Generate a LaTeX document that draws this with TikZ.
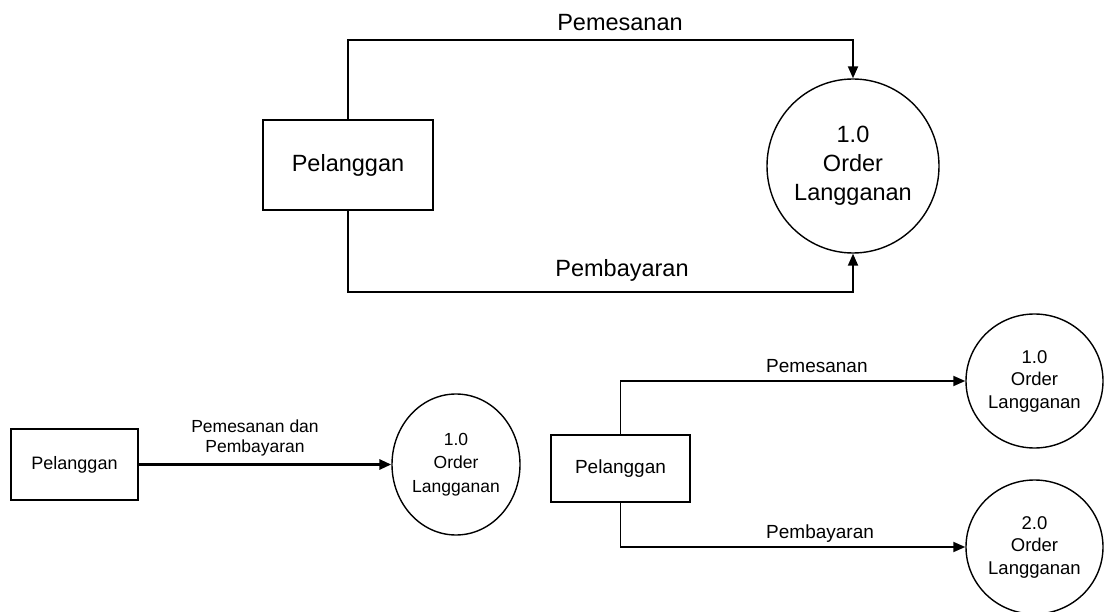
\documentclass[tikz,border=0pt]{standalone}
\usepackage{fontspec}
\setmainfont{Liberation Sans}
\usetikzlibrary{arrows.meta,shapes.geometric}
\begin{document}
\begin{tikzpicture}[x=1pt,y=-1pt,
  box/.style={draw,line width=1.9pt,rectangle,inner sep=0pt,align=center},
  proc/.style={draw,line width=1.4pt,ellipse,inner sep=0pt,align=center},
  flow/.style={line width=1.9pt,-{Triangle[length=12pt,width=10pt]}},
  lbl/.style={inner sep=0pt}]
\useasboundingbox (0,0) rectangle (1106,612);

% ---------- top diagram ----------
\node[box,minimum width=170pt,minimum height=90pt,font=\fontsize{23.5}{29}\selectfont] (p1) at (348,165) {Pelanggan};
\node[proc,minimum width=172pt,minimum height=174pt,font=\fontsize{23.5}{29}\selectfont] (c1) at (853,166) {1.0\\Order\\Langganan};
\coordinate (ty) at (0,40);
\coordinate (by) at (0,292);
\draw[flow] (p1.north) -- (p1.north |- ty) -- (c1.north |- ty) -- (c1.north);
\draw[flow] (p1.south) -- (p1.south |- by) -- (c1.south |- by) -- (c1.south);
\node[lbl,anchor=base,font=\fontsize{23.5}{29}\selectfont] (l1) at (620,31) {Pemesanan};
\node[lbl,anchor=base,font=\fontsize{23.5}{29}\selectfont] (l2) at (622,277) {Pembayaran};

% ---------- bottom left ----------
\node[box,minimum width=127pt,minimum height=71pt,font=\fontsize{18}{22}\selectfont] (p2) at (74.5,464.5) {Pelanggan};
\node[proc,minimum width=128pt,minimum height=141pt,font=\fontsize{17.5}{23.5}\selectfont] (c2) at (456,464.5) {1.0\\Order\\Langganan};
\draw[line width=2.9pt,-{Triangle[length=12pt,width=10pt]}] (p2.east) -- (c2.west);
\node[lbl,align=center,font=\fontsize{17.5}{20}\selectfont] (l3) at (255,438) {Pemesanan dan\\Pembayaran};

% ---------- bottom right ----------
\node[box,minimum width=139pt,minimum height=67pt,font=\fontsize{19}{23}\selectfont] (p3) at (620.5,468.5) {Pelanggan};
\node[proc,minimum width=137pt,minimum height=134pt,font=\fontsize{18.5}{22.5}\selectfont] (c3) at (1034.5,381) {1.0\\Order\\Langganan};
\node[proc,minimum width=137pt,minimum height=134pt,font=\fontsize{18.5}{22.5}\selectfont] (c4) at (1034.5,547) {2.0\\Order\\Langganan};
\draw[flow] (p3.north) |- (c3.west);
\draw[flow] (p3.south) |- (c4.west);
\node[lbl,anchor=base west,font=\fontsize{19}{23}\selectfont] (l4) at (766,373) {Pemesanan};
\node[lbl,anchor=base west,font=\fontsize{19}{23}\selectfont] (l5) at (766,538) {Pembayaran};
\end{tikzpicture}
\end{document}
